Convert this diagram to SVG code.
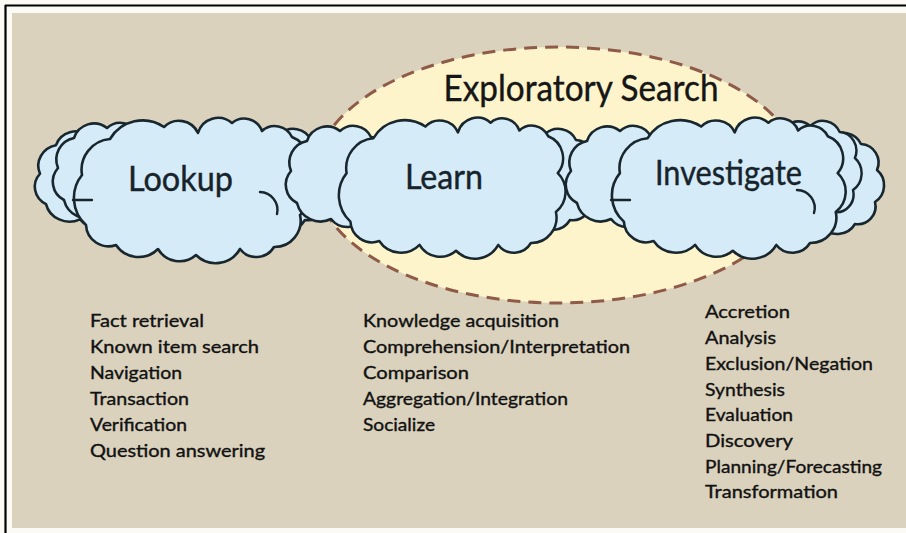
<svg xmlns="http://www.w3.org/2000/svg" xmlns:xlink="http://www.w3.org/1999/xlink" width="906" height="533" viewBox="0 0 906 533">
  <style>
    .cloud { fill: #d5ebf8; stroke: #18262e; stroke-width: 2.6; stroke-linejoin: round; }
    .inner { fill: none; stroke: #18262e; stroke-width: 2.4; stroke-linecap: round; }
    .label { font-family: Lato, "Open Sans", "Liberation Sans", sans-serif; font-size: 34px; fill: #17232b; stroke: #17232b; stroke-width: 0.4; text-anchor: middle; }
    .item { font-family: Lato, "Open Sans", "Liberation Sans", sans-serif; font-size: 17px; fill: #111; stroke: #111; stroke-width: 0.35; }
    .title { font-family: Lato, "Open Sans", "Liberation Sans", sans-serif; font-size: 36px; fill: #161616; stroke: #161616; stroke-width: 0.4; text-anchor: middle; }
  </style>
  <defs>
    <!-- large scalloped cloud, local box about 0..240 x 0..150 -->
    <path id="bigCloud" class="cloud" d="M 14 112 A 36.5 36.5 0 0 1 10 62 A 31 31 0 0 1 38 26 A 38 38 0 0 1 92 14 A 21 21 0 0 1 126 20 A 21 21 0 0 1 160 10 A 19 19 0 0 1 190 18 A 19 19 0 0 1 220 24 A 24.3 24.3 0 0 1 230 62 A 26.7 26.7 0 0 1 228 102 A 26.2 26.2 0 0 1 202 134 A 20.6 20.6 0 0 1 168 136 A 27.9 27.9 0 0 1 124 142 A 25 25 0 0 1 86 136 A 27.3 27.3 0 0 1 44 132 A 22.5 22.5 0 0 1 14 112 Z"/>
    <!-- smaller cloud drawn behind, local box about 0..110 x 0..100 -->
    <path id="backCloud" class="cloud" d="M 12 78 A 20.6 20.6 0 0 1 6 46 A 22 22 0 0 1 22 16 A 21 21 0 0 1 55 6 A 19.6 19.6 0 0 1 86 12 A 18.6 18.6 0 0 1 102 38 A 20 20 0 0 1 100 70 A 17.8 17.8 0 0 1 80 92 A 20.6 20.6 0 0 1 46 94 A 24.1 24.1 0 0 1 12 78 Z"/>
  </defs>

  <!-- page frame -->
  <rect x="0" y="0" width="906" height="533" fill="#fbfaf4"/>
  <rect x="12" y="13" width="894" height="515" fill="#dad2bd"/>
  <line x1="5" y1="5.5" x2="906" y2="5.5" stroke="#000" stroke-width="2.2"/>
  <line x1="5.5" y1="5" x2="5.5" y2="533" stroke="#000" stroke-width="2.2"/>

  <!-- exploratory search region -->
  <g id="exploratory-search">
    <ellipse cx="558" cy="175" rx="243" ry="128" fill="#fdf4cb" stroke="#8f5b48" stroke-width="3" stroke-dasharray="13 8"/>
    <text class="title" x="581" y="101" textLength="275" lengthAdjust="spacingAndGlyphs">Exploratory Search</text>
  </g>

  <g id="lookup">
    <use xlink:href="#backCloud" transform="translate(34,130) scale(1,0.95)"/>
    <use xlink:href="#backCloud" transform="translate(52,122)"/>
    <use xlink:href="#backCloud" transform="translate(225,128)"/>
    <use xlink:href="#bigCloud" transform="translate(72,113)"/>
    <path class="inner" d="M 260 192 A 18 18 0 0 1 277 214"/>
    <path class="inner" d="M 73 200 L 92 200"/>
    <text class="label" x="180.5" y="191" textLength="105" lengthAdjust="spacingAndGlyphs">Lookup</text>
    <g class="item">
      <text x="90" y="327" textLength="114" lengthAdjust="spacingAndGlyphs">Fact retrieval</text>
      <text x="90" y="353" textLength="169" lengthAdjust="spacingAndGlyphs">Known item search</text>
      <text x="90" y="379" textLength="92" lengthAdjust="spacingAndGlyphs">Navigation</text>
      <text x="90" y="405" textLength="99" lengthAdjust="spacingAndGlyphs">Transaction</text>
      <text x="90" y="431" textLength="97" lengthAdjust="spacingAndGlyphs">Verification</text>
      <text x="90" y="457" textLength="175" lengthAdjust="spacingAndGlyphs">Question answering</text>
    </g>
  </g>

  <g id="learn">
    <use xlink:href="#backCloud" transform="translate(285,125)"/>
    <use xlink:href="#backCloud" transform="translate(490,128)"/>
    <use xlink:href="#bigCloud" transform="translate(337,113) scale(0.96,0.97)"/>
    <text class="label" x="444" y="189" textLength="78" lengthAdjust="spacingAndGlyphs">Learn</text>
    <g class="item">
      <text x="363" y="327" textLength="196" lengthAdjust="spacingAndGlyphs">Knowledge acquisition</text>
      <text x="363" y="353" textLength="267" lengthAdjust="spacingAndGlyphs">Comprehension/Interpretation</text>
      <text x="363" y="379" textLength="106" lengthAdjust="spacingAndGlyphs">Comparison</text>
      <text x="363" y="405" textLength="205" lengthAdjust="spacingAndGlyphs">Aggregation/Integration</text>
      <text x="363" y="431" textLength="72" lengthAdjust="spacingAndGlyphs">Socialize</text>
    </g>
  </g>

  <g id="investigate">
    <use xlink:href="#backCloud" transform="translate(565,125)"/>
    <use xlink:href="#backCloud" transform="translate(775,132)"/>
    <use xlink:href="#backCloud" transform="translate(758,120) scale(0.95,1)"/>
    <use xlink:href="#bigCloud" transform="translate(610,113) scale(0.99,0.97)"/>
    <path class="inner" d="M 797 190 A 18 18 0 0 1 814 213"/>
    <path class="inner" d="M 611 200 L 630 200"/>
    <text class="label" x="728.5" y="185" textLength="147" lengthAdjust="spacingAndGlyphs">Investigate</text>
    <g class="item">
      <text x="705" y="318" textLength="85" lengthAdjust="spacingAndGlyphs">Accretion</text>
      <text x="705" y="344" textLength="71" lengthAdjust="spacingAndGlyphs">Analysis</text>
      <text x="705" y="370" textLength="168" lengthAdjust="spacingAndGlyphs">Exclusion/Negation</text>
      <text x="705" y="395.5" textLength="80" lengthAdjust="spacingAndGlyphs">Synthesis</text>
      <text x="705" y="421" textLength="88" lengthAdjust="spacingAndGlyphs">Evaluation</text>
      <text x="705" y="447" textLength="88" lengthAdjust="spacingAndGlyphs">Discovery</text>
      <text x="705" y="473" textLength="177" lengthAdjust="spacingAndGlyphs">Planning/Forecasting</text>
      <text x="705" y="498" textLength="133" lengthAdjust="spacingAndGlyphs">Transformation</text>
    </g>
  </g>
</svg>
